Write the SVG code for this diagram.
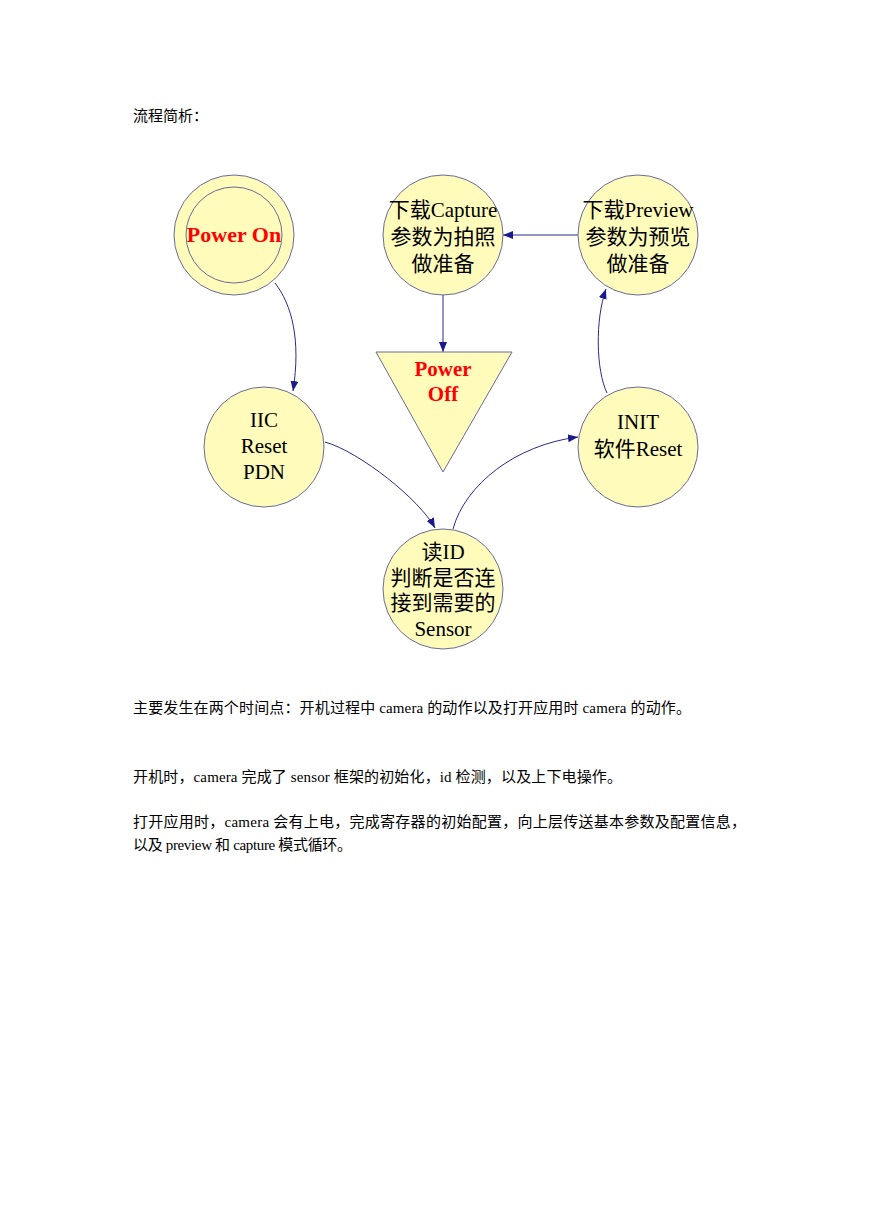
<svg xmlns="http://www.w3.org/2000/svg" width="869" height="1228" viewBox="0 0 869 1228">
<style>
.node{fill:#FFFBBB;stroke:#6a6a9a;stroke-width:1}
.lbl{font-family:"Liberation Serif","Noto Sans CJK SC",serif;font-size:21px;fill:#000;text-anchor:middle}
.red{font-family:"Liberation Serif","Noto Sans CJK SC",serif;font-weight:bold;fill:#FF0000;text-anchor:middle}
.body{font-family:"Liberation Serif","Noto Sans CJK SC",serif;font-size:15px;fill:#000}
.conn{fill:none;stroke:#2a2a90;stroke-width:1}
</style>
<defs>
<marker id="arr" markerUnits="userSpaceOnUse" markerWidth="12" markerHeight="10" refX="10" refY="4" orient="auto">
<path d="M0,0 L10,4 L0,8 Z" fill="#1a1a8c"/>
</marker>
</defs>
<rect width="869" height="1228" fill="#fff"/>
<text class="body" x="133" y="121">流程简析：</text>

<g id="connectors">
<path class="conn" d="M275,283 C292,305 301,340 293,391" marker-end="url(#arr)"/>
<path class="conn" d="M443,295 L443,352" marker-end="url(#arr)"/>
<path class="conn" d="M578,235 L503,235" marker-end="url(#arr)"/>
<path class="conn" d="M607,393 C596,370 595,320 606,289" marker-end="url(#arr)"/>
<path class="conn" d="M325,442 C360,452 420,500 435,528" marker-end="url(#arr)"/>
<path class="conn" d="M453,529 C465,485 515,445 578,437" marker-end="url(#arr)"/>
</g>

<g id="power-on">
<circle class="node" cx="234" cy="235" r="60"/>
<circle class="node" cx="234" cy="235" r="48"/>
<text class="red" x="234" y="242" font-size="22">Power On</text>
</g>

<g id="capture">
<circle class="node" cx="443" cy="235" r="60"/>
<text class="lbl" x="443" y="217">下载Capture</text>
<text class="lbl" x="443" y="244">参数为拍照</text>
<text class="lbl" x="443" y="271">做准备</text>
</g>

<g id="preview">
<circle class="node" cx="638" cy="235" r="60"/>
<text class="lbl" x="638" y="217">下载Preview</text>
<text class="lbl" x="638" y="244">参数为预览</text>
<text class="lbl" x="638" y="271">做准备</text>
</g>

<g id="power-off">
<polygon class="node" points="376,352 512,352 443,472"/>
<text class="red" x="443" y="376" font-size="21">Power</text>
<text class="red" x="443" y="401" font-size="21">Off</text>
</g>

<g id="iic">
<circle class="node" cx="264" cy="447" r="60"/>
<text class="lbl" x="264" y="427">IIC</text>
<text class="lbl" x="264" y="453">Reset</text>
<text class="lbl" x="264" y="479">PDN</text>
</g>

<g id="init">
<circle class="node" cx="638" cy="447" r="60"/>
<text class="lbl" x="638" y="429">INIT</text>
<text class="lbl" x="638" y="456">软件Reset</text>
</g>

<g id="sensor">
<circle class="node" cx="443" cy="589" r="60"/>
<text class="lbl" x="443" y="559">读ID</text>
<text class="lbl" x="443" y="585">判断是否连</text>
<text class="lbl" x="443" y="610">接到需要的</text>
<text class="lbl" x="443" y="636">Sensor</text>
</g>

<text class="body" x="133" y="713" textLength="558">主要发生在两个时间点：开机过程中 camera 的动作以及打开应用时 camera 的动作。</text>
<text class="body" x="133" y="782" textLength="489">开机时，camera 完成了 sensor 框架的初始化，id 检测，以及上下电操作。</text>
<text class="body" x="133" y="827" textLength="613">打开应用时，camera 会有上电，完成寄存器的初始配置，向上层传送基本参数及配置信息，</text>
<text class="body" x="133" y="850" textLength="219">以及 preview 和 capture 模式循环。</text>
</svg>
